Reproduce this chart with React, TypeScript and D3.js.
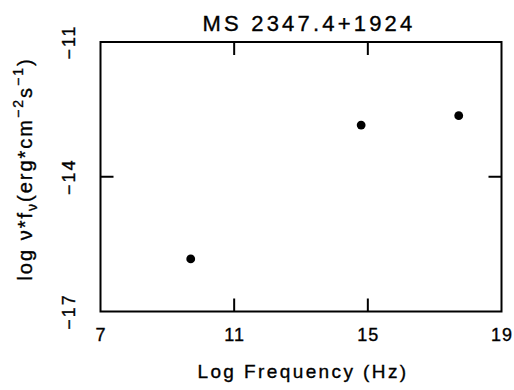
import React from "react";
import * as d3 from "d3";

const title = "MS 2347.4+1924";
const logFreq = [9.7, 14.8, 17.72];
const logNuFnu = [-15.83, -12.85, -12.64];
const xTicks = [7, 11, 15, 19];
const yTicks = [-17, -14, -11];

const W = 514;
const H = 390;
const left = 100.5;
const right = 501.5;
const top = 42;
const bottom = 311.5;
const font = "'Liberation Sans', Arial, Helvetica, sans-serif";

export default function App() {
  const x = d3.scaleLinear().domain([7, 19]).range([left, right]);
  const y = d3.scaleLinear().domain([-17, -11]).range([bottom, top]);
  const tickLen = 13;
  const innerX = xTicks.slice(1, -1);
  const innerY = yTicks.slice(1, -1);
  const textStyle = { stroke: "#000", strokeWidth: 0.35 };
  return (
    <svg
      width={W}
      height={H}
      style={{ position: "absolute", left: 0, top: 0, background: "#fff" }}
      fontFamily={font}
    >
      <rect x={0} y={0} width={W} height={H} fill="#fff" />
      <text x={309} y={31} fontSize={22} letterSpacing={3.2} textAnchor="middle" fill="#000" style={textStyle}>
        {title}
      </text>
      <rect
        x={left}
        y={top}
        width={right - left}
        height={bottom - top}
        fill="none"
        stroke="#000"
        strokeWidth={2}
      />
      {innerX.map((t) => (
        <g key={"xt" + t}>
          <line x1={x(t)} x2={x(t)} y1={bottom} y2={bottom - tickLen} stroke="#000" strokeWidth={2} />
          <line x1={x(t)} x2={x(t)} y1={top} y2={top + tickLen} stroke="#000" strokeWidth={2} />
        </g>
      ))}
      {innerY.map((t) => (
        <g key={"yt" + t}>
          <line x1={left} x2={left + tickLen} y1={y(t)} y2={y(t)} stroke="#000" strokeWidth={2} />
          <line x1={right} x2={right - tickLen} y1={y(t)} y2={y(t)} stroke="#000" strokeWidth={2} />
        </g>
      ))}
      {xTicks.map((t) => (
        <text key={"xl" + t} x={x(t) + 0.5} y={341} fontSize={18} letterSpacing={1} textAnchor="middle" fill="#000" style={textStyle}>
          {String(t)}
        </text>
      ))}
      {yTicks.map((t) => (
        <text
          key={"yl" + t}
          transform={`translate(75,${y(t)}) rotate(-90)`}
          fontSize={18}
          letterSpacing={2}
          textAnchor="middle"
          fill="#000"
          style={textStyle}
        >
          {String(t).replace("-", "\u2212")}
        </text>
      ))}
      <text x={303} y={378} fontSize={19} letterSpacing={2.4} textAnchor="middle" fill="#000" style={textStyle}>
        Log Frequency (Hz)
      </text>
      <text
        transform={`translate(32,${169}) rotate(-90)`}
        fontSize={20}
        letterSpacing={2}
        textAnchor="middle"
        fill="#000"
        style={textStyle}
      >
        <tspan>log </tspan>
        <tspan>ν*f</tspan>
        <tspan fontSize={14} dy={5}>ν</tspan>
        <tspan dy={-5}>(erg*cm</tspan>
        <tspan fontSize={14} dy={-9}>−2</tspan>
        <tspan dy={9}>s</tspan>
        <tspan fontSize={14} dy={-9}>−1</tspan>
        <tspan dy={9}>)</tspan>
      </text>
      {logFreq.map((v, i) => (
        <circle key={"p" + i} cx={x(v)} cy={y(logNuFnu[i])} r={4.4} fill="#000" />
      ))}
    </svg>
  );
}
